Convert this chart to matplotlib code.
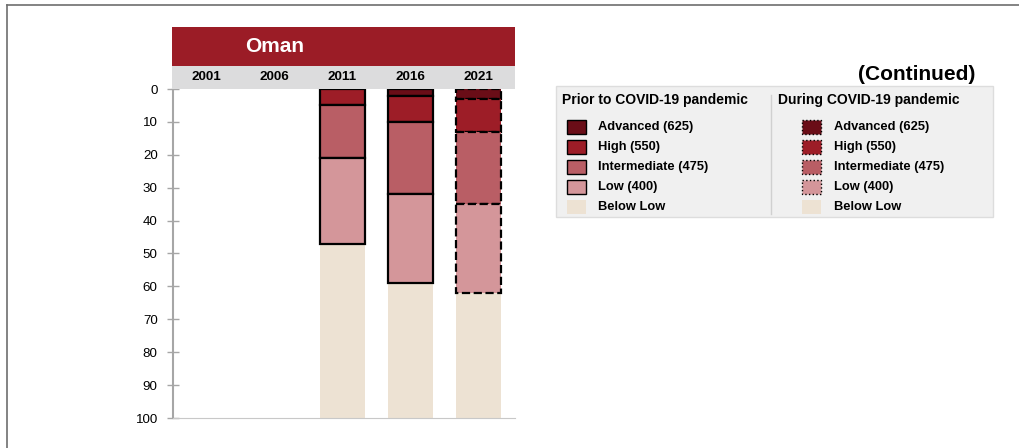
import matplotlib
matplotlib.use('Agg')
import matplotlib.pyplot as plt
from matplotlib.patches import Rectangle
from matplotlib.lines import Line2D
import numpy as np

plt.rcParams['font.family'] = ['Liberation Sans', 'DejaVu Sans']

# data: percent of students reaching each benchmark (segments, top-down)
years = ['2001', '2006', '2011', '2016', '2021']
advanced = [np.nan, np.nan, 0, 2, 3]
high = [np.nan, np.nan, 5, 8, 10]
intermediate = [np.nan, np.nan, 16, 22, 22]
low = [np.nan, np.nan, 26, 27, 27]
during_covid = [False, False, False, False, True]

country = 'Oman'
level_names = ['Advanced (625)', 'High (550)', 'Intermediate (475)', 'Low (400)', 'Below Low']
colors = ['#6A0D17', '#9D1D27', '#B95E65', '#D4969A', '#EDE2D3']

W, H = 1019, 448
fig = plt.figure(figsize=(W / 100, H / 100), dpi=100)

def fx(px):
    return px / W

def fy(py):
    return 1 - py / H

# main axes
ax = fig.add_axes([fx(173), fy(418), fx(515) - fx(173), fy(89) - fy(418)])
x = np.arange(len(years))
bw = 0.66
segs = [advanced, high, intermediate, low]
for i in range(len(years)):
    if np.isnan(advanced[i]):
        continue
    ls = '--' if during_covid[i] else '-'
    bottom = 0
    for seg, c in zip(segs, colors[:4]):
        v = seg[i]
        if v > 0:
            ax.bar(x[i], v, bottom=bottom, width=bw, color=c, edgecolor='black',
                   linewidth=1.6, linestyle=ls, zorder=3)
        bottom += v
    ax.bar(x[i], 100 - bottom, bottom=bottom, width=bw, color=colors[4],
           linewidth=0, zorder=2)

ax.set_xlim(-0.49, 4.54)
ax.set_ylim(100, 0)
ax.set_yticks(np.arange(0, 101, 10))
ax.tick_params(axis='y', direction='inout', length=8, color='#A6A6A6', width=1,
               labelsize=9.6, pad=7)
ax.set_xticks([])
for s in ['top', 'right']:
    ax.spines[s].set_visible(False)
ax.spines['left'].set_color('#A6A6A6')
ax.spines['bottom'].set_color('#C8C8C8')
ax.spines['left'].set_linewidth(1.5)

# header bands
hdr = fig.add_axes([fx(172), fy(89), fx(515) - fx(172), fy(27) - fy(89)])
hdr.set_xlim(0, 1)
hdr.set_ylim(0, 1)
hdr.axis('off')
hdr.add_patch(Rectangle((0, 23 / 62), 1, 39 / 62, color='#9B1C26', lw=0))
hdr.add_patch(Rectangle((0, 0), 1, 23 / 62, color='#DCDCDD', lw=0))
hdr.text(0.3, (23 + 19.5) / 62, country, color='white', fontsize=15,
         fontweight='bold', ha='center', va='center')
for i, y in enumerate(years):
    xd = ax.transData.transform((x[i], 0))[0]
    fig.text(xd / W, fy(77), y, ha='center', va='center', fontsize=9.7,
             fontweight='bold')

# figure border (top and left)
fig.add_artist(Line2D([fx(7), fx(1019)], [fy(5), fy(5)], color='#6E6E6E', lw=1.2))
fig.add_artist(Line2D([fx(7), fx(7)], [fy(5), 0], color='#6E6E6E', lw=1.2))

fig.text(fx(975), fy(75), '(Continued)', ha='right', va='center', fontsize=15,
         fontweight='bold')

# legend panel
leg = fig.add_axes([0, 0, 1, 1])
leg.set_xlim(0, W)
leg.set_ylim(H, 0)
leg.axis('off')
leg.patch.set_alpha(0)
leg.add_patch(Rectangle((556, 86), 437, 131, facecolor='#F0F0F0',
                        edgecolor='#DDDDDD', lw=1))
leg.plot([771, 771], [95, 214], color='#D0D0D0', lw=1)
cols = [(562, 567, 598, 'Prior to COVID-19 pandemic', '-', 1.0),
        (778, 802, 834, 'During COVID-19 pandemic', ':', 1.0)]
for tx, sx, lx, title, ls, lw in cols:
    leg.text(tx, 100, title, fontsize=10, fontweight='bold', va='center', ha='left')
    for k, (name, c) in enumerate(zip(level_names, colors)):
        yc = 127 + k * 20
        if k < 4:
            leg.add_patch(Rectangle((sx, yc - 7), 19, 14, facecolor=c,
                                    edgecolor='black', lw=lw, linestyle=ls))
        else:
            leg.add_patch(Rectangle((sx, yc - 7), 19, 14, facecolor=c, lw=0))
        leg.text(lx, yc, name, fontsize=9.3, fontweight='bold', va='center', ha='left')

fig.savefig('out.png', dpi=100)
